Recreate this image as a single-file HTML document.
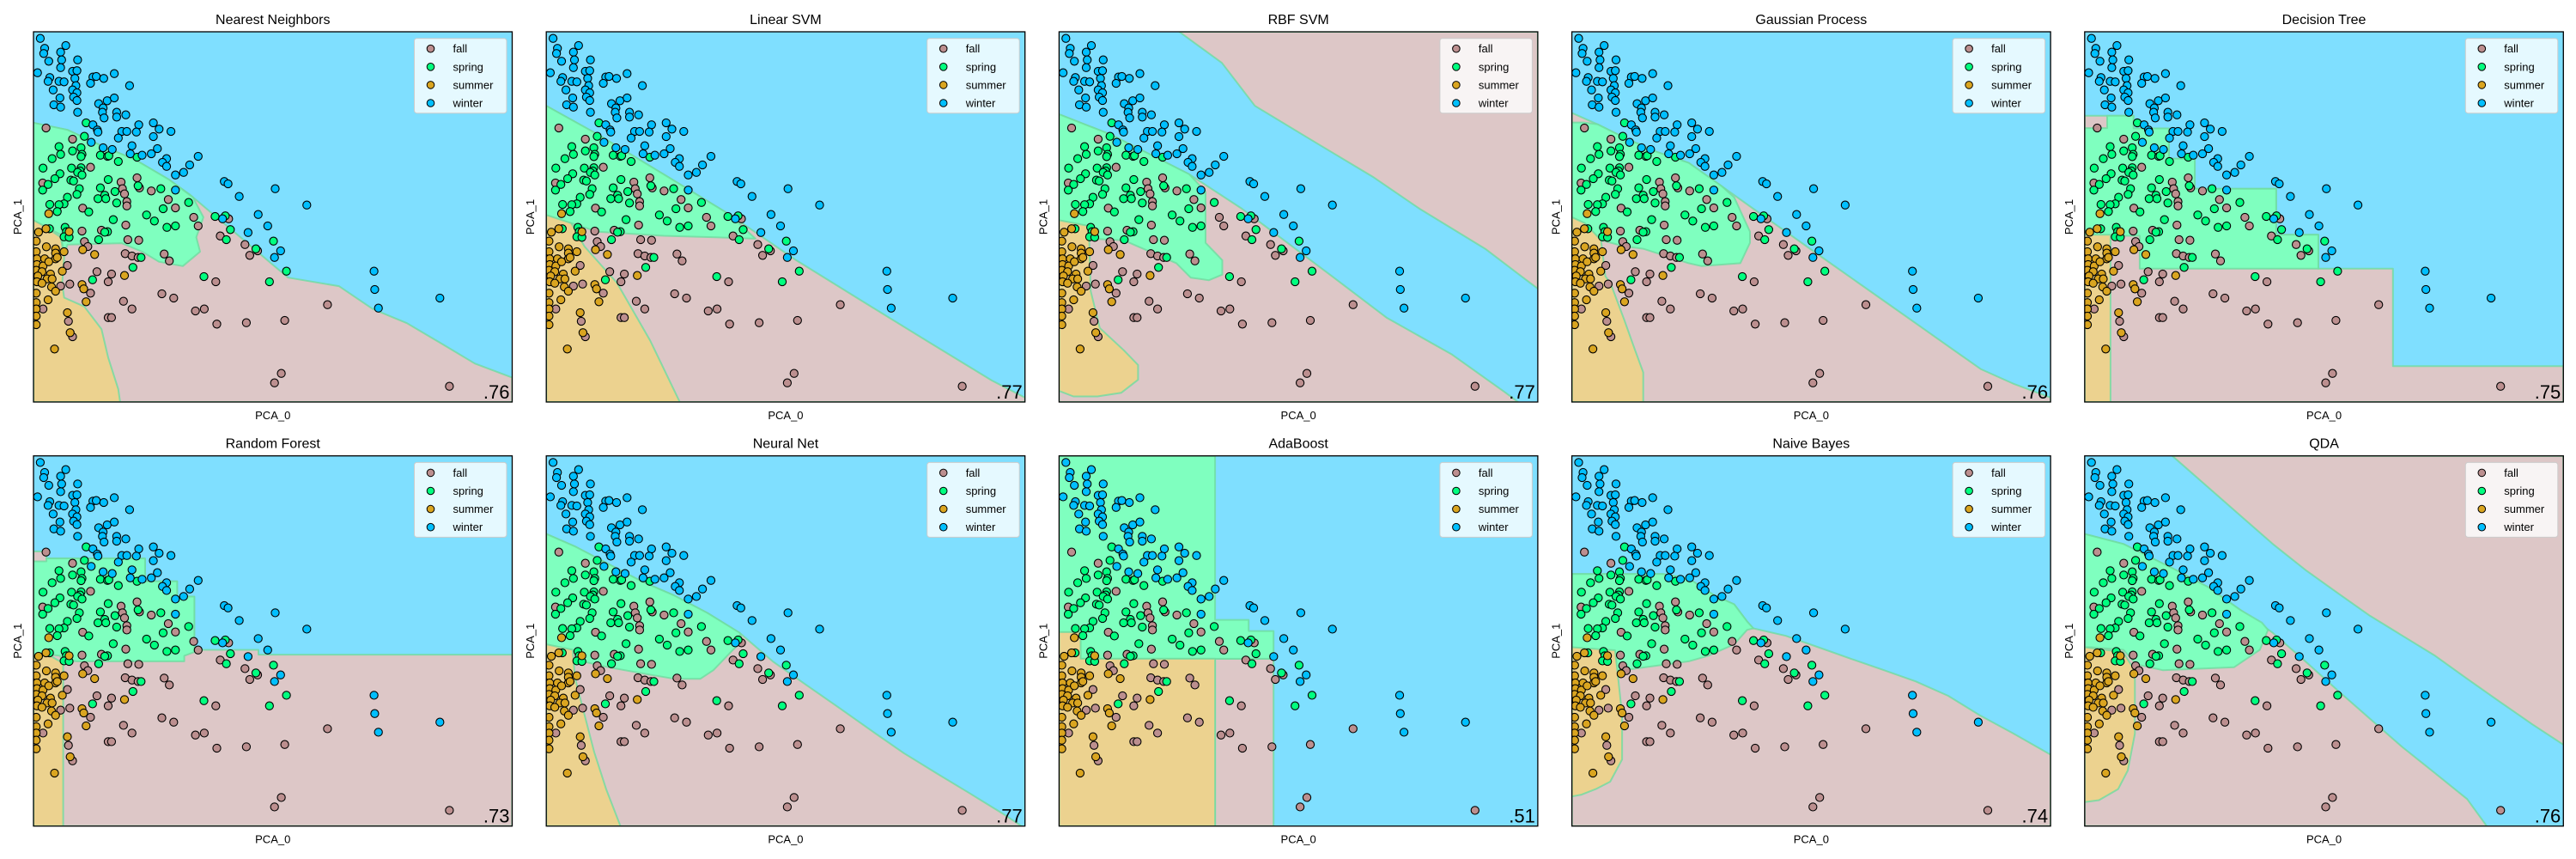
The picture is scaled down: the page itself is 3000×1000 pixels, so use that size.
<!DOCTYPE html>
<html><head><meta charset="utf-8">
<style>
html,body{margin:0;padding:0;background:#fff;}
svg{display:block;font-family:"Liberation Sans","DejaVu Sans",sans-serif;}
</style></head>
<body>
<svg id="chart" width="3000" height="1000" viewBox="0 0 3000 1000" xmlns="http://www.w3.org/2000/svg"></svg>
<script>
// ---- data (PCA_0, PCA_1) ----
const classNames = ["fall","spring","summer","winter"];
const classColors = ["#bc8f8f","#00ff7f","#daa520","#00bfff"];
const regionColors = ["#ddc7c7","#7fffbf","#ecd28f","#7fdfff"];
const winterPts = [[1.20,1.35],[1.95,1.60],[1.33,1.70],[1.80,1.83],[1.30,1.88],[1.45,2.15],[1.83,2.10],[2.30,2.10],[1.80,2.37],[2.15,2.50],[2.28,2.48],[1.12,2.55],[1.48,2.72],[2.22,2.75],[2.75,2.70],[2.85,2.68],[3.07,2.75],[3.38,2.58],[1.43,2.85],[1.75,2.85],[1.90,2.87],[2.25,3.00],[2.68,2.92],[3.83,3.00],[1.58,3.15],[2.15,3.15],[2.28,3.25],[1.78,3.43],[2.18,3.40],[2.28,3.52],[2.92,3.63],[3.17,3.53],[3.38,3.43],[1.60,3.67],[1.80,3.75],[3.05,3.78],[2.30,3.93],[3.03,3.93],[3.45,3.93],[3.72,4.02],[3.08,4.13],[3.45,4.10],[2.75,4.37],[4.10,4.37],[4.53,4.30],[2.88,4.55],[2.90,4.62],[3.60,4.60],[3.75,4.60],[4.03,4.62],[4.70,4.52],[5.05,4.60],[4.53,4.78],[3.50,4.83],[2.70,4.98],[3.90,5.10],[3.05,5.17],[3.32,5.23],[4.65,5.20],[3.85,5.38],[4.20,5.43],[4.47,5.38],[4.92,5.55],[4.80,5.68],[4.92,5.82],[5.85,5.47],[5.60,5.77],[5.42,6.03],[5.18,6.12],[5.18,6.65],[6.62,6.35],[6.73,6.43],[8.12,6.60],[7.06,6.87],[9.05,7.17],[7.62,7.50],[6.57,7.65],[7.90,7.90],[7.32,8.13],[8.28,8.77],[8.10,9.00],[11.03,9.48],[11.05,10.12],[11.16,10.77],[12.97,10.42]];
const springPts = [[2.55,4.30],[2.50,4.77],[1.75,5.13],[2.40,5.17],[1.80,5.40],[2.15,5.28],[2.43,5.40],[2.40,5.48],[2.97,5.43],[3.18,5.47],[3.22,5.45],[1.55,5.55],[3.50,5.65],[4.05,5.50],[1.28,5.88],[2.12,5.88],[2.40,5.87],[2.37,5.98],[2.30,6.03],[2.43,6.12],[1.78,6.08],[1.63,6.25],[2.10,6.30],[2.18,6.33],[3.20,6.28],[4.08,6.50],[1.43,6.45],[1.27,6.65],[2.35,6.60],[2.97,6.57],[3.40,6.70],[4.75,6.60],[2.28,6.80],[3.10,6.83],[2.90,6.95],[2.00,6.90],[1.48,7.15],[1.90,7.13],[1.75,7.16],[3.45,7.10],[3.13,6.95],[5.57,7.08],[1.70,7.40],[2.63,7.41],[4.82,7.30],[4.33,7.52],[4.56,7.73],[3.35,7.68],[6.35,7.57],[6.65,7.55],[1.93,7.95],[1.47,8.00],[1.97,8.10],[3.18,8.10],[3.10,8.12],[4.93,7.95],[5.18,7.90],[6.80,8.03],[1.90,8.28],[2.05,8.30],[2.92,8.38],[6.68,8.38],[8.07,8.43],[7.55,8.70],[4.17,9.00],[3.93,9.35],[8.45,9.48],[6.02,9.67],[2.74,9.78],[7.95,9.85]];
const fallPts = [[1.37,4.48],[2.15,4.87],[2.68,5.85],[1.27,6.40],[4.05,6.22],[3.58,6.37],[4.12,6.57],[3.62,6.60],[4.47,6.68],[3.68,6.78],[4.97,6.98],[3.75,7.05],[3.75,7.20],[5.18,7.27],[2.45,7.28],[5.72,7.60],[6.75,7.65],[3.72,7.87],[5.85,7.90],[2.43,8.08],[3.00,8.05],[6.50,8.25],[3.78,8.38],[4.10,8.40],[2.50,8.45],[2.60,8.62],[7.23,8.55],[7.60,8.77],[7.37,8.93],[3.70,8.87],[3.90,8.95],[4.08,9.00],[4.85,8.88],[5.00,9.12],[2.00,9.28],[2.87,9.50],[3.30,9.58],[3.20,9.85],[6.37,9.85],[2.07,9.93],[1.80,10.00],[2.68,10.25],[4.78,10.27],[5.13,10.42],[3.65,10.53],[3.90,10.80],[5.77,10.87],[6.03,10.80],[9.66,10.65],[3.20,11.10],[3.30,11.10],[6.40,11.33],[7.27,11.28],[8.40,11.20],[2.03,11.23],[2.15,11.77],[1.28,10.80],[8.30,13.05],[8.10,13.38],[13.25,13.50]];
const summerPts = [[1.45,7.47],[1.15,8.12],[1.37,8.00],[2.05,8.10],[1.08,8.43],[1.38,8.63],[1.65,8.70],[1.08,8.80],[1.65,8.85],[1.10,9.05],[1.33,9.05],[1.65,9.05],[1.10,9.25],[1.28,9.30],[1.45,9.15],[1.08,9.45],[1.25,9.50],[1.50,9.58],[1.85,9.48],[1.13,9.65],[1.40,9.75],[1.55,9.75],[1.10,9.85],[1.25,9.90],[1.53,10.03],[2.43,9.95],[2.48,10.10],[1.65,10.18],[1.08,10.25],[1.43,10.48],[1.08,10.58],[2.55,10.55],[1.08,10.80],[2.00,10.93],[1.08,11.05],[1.08,11.35],[2.08,11.63],[1.62,12.20],[2.45,8.73],[2.80,8.90],[3.68,9.63],[1.90,8.80],[1.70,9.00]];
const scores = [".76",".77",".77",".76",".75",".73",".77",".51",".74",".76"];
const titles = ["Nearest Neighbors","Linear SVM","RBF SVM","Gaussian Process","Decision Tree","Random Forest","Neural Net","AdaBoost","Naive Bayes","QDA"];
const xDomain = [1.00, 15.10];
const yDomain = [1.12, 14.05]; // PCA_1 axis runs downward in these units

// decision regions, percent of plot area [class index, polygon]
const regions = [
 [[0,[[0,24.6],[7.1,26.5],[14.2,30.8],[21.3,34.6],[28.4,40],[32.6,43.9],[36.9,48.6],[42.6,54.8],[49.6,62.5],[53.2,66.4],[63.8,68.7],[70.9,74.9],[78,78.7],[85.1,84.1],[92.2,89.6],[100,93.4],[100,100],[0,100]]],
  [1,[[0,24.6],[7.1,26.5],[14.2,30.8],[21.3,34.6],[28.4,40],[33.3,44.7],[35.5,50.1],[34,55.5],[34.8,59.4],[31.2,63.3],[26.2,62.1],[22.7,59.4],[18.4,57.1],[7.1,57.5],[6.4,60.2],[5.7,54.8],[2.1,52.4],[0,50.9]]],
  [2,[[0,50.9],[2.1,52.4],[5.7,55.5],[6.4,61],[6,68],[6.4,71.8],[10.6,74.2],[14.2,80.3],[15.6,88],[17.7,96.5],[18.1,100],[0,100]]]],
 [[0,[[0,20],[10.7,27.7],[24.5,38.5],[38.2,49.3],[52.2,61.7],[65.7,72.5],[79.4,83.4],[93.1,94.2],[100,98.8],[100,100],[0,100]]],
  [1,[[0,20],[10.7,27.7],[24.5,38.5],[38.2,49.3],[43.7,55.9],[35.4,55.5],[24.5,55.1],[10.7,54],[5.2,51.7],[0,49.5]]],
  [2,[[0,49.5],[5.2,51.7],[8,58],[14.8,67.9],[21.7,83.4],[27.9,100],[0,100]]]],
 [[0,[[0,22.3],[10.7,27.7],[27.2,38.5],[38.2,47.8],[47.8,57.1],[57.4,66.4],[68.4,77.2],[82.1,87.2],[93.1,97.3],[95.9,100],[0,100]]],
  [0,[[25.1,0],[34,8.4],[40.9,20],[54.7,30.8],[65.7,39.3],[75.3,47.8],[89,58.6],[100,69.4],[100,0]]],
  [1,[[0,22.3],[10.7,27.7],[27.2,38.5],[30.6,43.2],[30.6,57],[34.1,61.7],[34.1,65.6],[31.3,67.1],[27.5,66.4],[24.5,62.5],[13.5,56.3],[6.6,55.9],[5.9,52.4],[0,50.9]]],
  [2,[[0,50.9],[5.9,52.4],[6.3,56],[6.6,70],[8.5,80],[13.5,86],[16.5,90],[16.5,94],[13,97.5],[8,98.5],[3,98.5],[0,97]]]],
 [[0,[[0,21.9],[5.4,25],[10.8,28.5],[17.6,32.4],[24.4,35.4],[31.2,41.6],[37.9,47.8],[44.7,54],[51.5,60.2],[58.3,66.4],[65,72.5],[71.8,78.7],[78.6,84.9],[85.4,91.1],[92.1,95],[100,98.8],[100,100],[0,100]]],
  [1,[[0,24.5],[2.5,24.5],[5.4,25],[10.8,28.5],[17.6,32.4],[24.4,35.4],[31.2,41.6],[33.9,44.7],[37.2,54],[37.2,57],[35.2,62.5],[27.1,63.3],[24.4,62.5],[14.9,58.6],[10.8,57.9],[6.1,56.3],[2.7,51.7],[0,50.1]]],
  [2,[[0,50.1],[2.7,51.7],[6.1,56.3],[7,66],[8.1,68],[11,78],[13.2,86],[14.9,92],[14.9,100],[0,100]]]],
 [[0,[[0,22.7],[10.2,22.7],[10.2,26.1],[17.6,26.1],[17.6,34.3],[23,34.3],[23,42.4],[40,42.4],[40,54.8],[48.8,54.8],[48.8,64],[64.4,64],[64.4,90.3],[100,90.3],[100,100],[0,100]]],
  [1,[[4.7,22.7],[10.2,22.7],[10.2,26.1],[17.6,26.1],[17.6,34.3],[23,34.3],[23,42.4],[40,42.4],[40,54.8],[48.8,54.8],[48.8,64],[11.5,64],[11.5,55.1],[0,55.1],[0,26],[4.7,26]]],
  [2,[[0,54.8],[5.4,54.8],[5.4,100],[0,100]]]],
 [[0,[[0,25.8],[2.7,25.8],[2.7,27.7],[23.3,27.7],[23.3,33.9],[30,33.9],[30,38],[33.6,38],[33.6,52.4],[47,52.4],[47,53.7],[100,53.7],[100,100],[0,100]]],
  [1,[[2.7,27.7],[23.3,27.7],[23.3,33.9],[30,33.9],[30,38],[33.6,38],[33.6,53],[31.5,54],[31.5,55.5],[9,55.5],[6,55],[5.5,54],[3,53.6],[0,53.6],[0,28.5],[2.7,28.5]]],
  [2,[[0,53.6],[3,53.6],[6.2,56],[6.2,100],[0,100]]]],
 [[0,[[0,21.1],[6.2,24.6],[13,29.2],[19.9,33.9],[26.7,37.7],[33.6,42.4],[40.4,47.8],[47.3,55.5],[54.1,61.7],[61,67.9],[67.8,74.1],[74.7,80.3],[81.5,85.7],[88.4,91.1],[95.2,96.5],[99.3,100],[0,100]]],
  [1,[[0,21.1],[6.2,24.6],[13,29.2],[19.9,33.9],[26.7,37.7],[33.6,42.4],[40.4,47.8],[41,50],[39,52.4],[34.9,57.9],[32.2,60.2],[26.7,60.2],[21.2,59],[13,57.1],[7.5,55.5],[5.5,52.4],[0,50.9]]],
  [2,[[0,50.9],[5.5,52.4],[6,60],[8,70],[10,80],[12.5,90],[15.5,100],[0,100]]]],
 [[0,[[32.6,54.8],[44.8,54.8],[44.8,100],[32.6,100]]],
  [1,[[0,0],[32.6,0],[32.6,44.3],[39.6,44.3],[39.6,47.3],[44.8,47.3],[44.8,54.8],[4.5,54.8],[4.5,47.6],[0,47.6]]],
  [2,[[0,47.6],[4.5,47.6],[4.5,54.8],[32.6,54.8],[32.6,100],[0,100]]]],
 [[0,[[0,31.9],[19,31.9],[24.4,33.1],[29.8,37.7],[33.9,40.1],[36.6,44.7],[37.9,46.6],[44.7,48.6],[51.5,51.7],[58.3,54.8],[65,57.8],[71.8,60.9],[78.6,64.8],[85.4,70.2],[92.1,74.9],[100,80.7],[100,100],[0,100]]],
  [1,[[0,31.9],[19,31.9],[24.4,33.1],[29.8,37.7],[33.9,40.1],[36.6,44.7],[37.9,46.6],[36.6,47],[33.9,50.9],[28.5,54],[24.4,55.5],[10.8,57.9],[9.5,57.9],[9,53],[0,51.7]]],
  [2,[[0,51.7],[9,52.5],[9.5,58],[10.5,70],[10.5,82],[8,88],[5,90],[2,91.5],[0,92]]]],
 [[0,[[0,21.1],[8.1,23.8],[19,30.8],[25.7,35.4],[32.5,41.6],[39.3,47.8],[46.1,55.5],[52.8,63.3],[59.6,71],[66.4,78.7],[73.2,85.7],[79.9,92.7],[84,100],[0,100]]],
  [0,[[18.3,0],[25.7,8.4],[32.5,16.1],[39.3,23.8],[46.1,30.8],[52.8,37],[59.6,43.2],[66.4,48.6],[73.2,54],[79.9,60.2],[86.7,66.4],[93.5,72.5],[100,78],[100,0]]],
  [1,[[0,21.1],[8.1,23.8],[19,30.8],[25.7,35.4],[32.5,41.6],[37,45],[38.3,47],[36.6,52.4],[31.2,57.1],[16.3,57.9],[10.8,56.3],[8.1,52.4],[1.4,51.7],[0,51.7]]],
  [2,[[0,51.7],[8,53],[10.5,58],[10.5,75],[9,85],[7,90],[3,93],[0,93.5]]]]
];

const NS = "http://www.w3.org/2000/svg";
const svg = document.getElementById("chart");
function mk(tag, attrs, parent){ const e=document.createElementNS(NS,tag); for(const k in attrs) e.setAttribute(k,attrs[k]); (parent||svg).appendChild(e); return e; }

const PW = 557.5, PH = 431;
const rowTops = [37, 530.7];
function panelLeft(c){ return 39 + 597.2*c; }

const pts = [fallPts, springPts, summerPts, winterPts];

for(let i=0;i<10;i++){
  const c=i%5, r=Math.floor(i/5);
  const L=panelLeft(c), T=rowTops[r];
  const xs = v => L + (v - xDomain[0])/(xDomain[1]-xDomain[0])*PW;
  const ys = v => T + (v - yDomain[0])/(yDomain[1]-yDomain[0])*PH;
  const px = p => L + p/100*PW, py = p => T + p/100*PH;

  const g = mk("g",{});
  
  
  const clipId='clip'+i;
  const cp=mk("clipPath",{id:clipId},g); mk("rect",{x:L,y:T,width:PW,height:PH},cp);

  const bg=mk("rect",{x:L,y:T,width:PW,height:PH,fill:regionColors[3]},g);
  
  
  const rg=mk("g",{"clip-path":"url(#"+clipId+")"},g);
  regions[i].forEach(([k,poly])=>{
    const p=mk("polygon",{points:poly.map(q=>px(q[0]).toFixed(1)+","+py(q[1]).toFixed(1)).join(" "),fill:regionColors[k],stroke:"#6fdca0","stroke-width":2,"stroke-opacity":0.8,"stroke-linejoin":"round"},rg);
    
    
  });
  // points
  const pg=mk("g",{"clip-path":"url(#"+clipId+")"},g);
  pts.forEach((arr,k)=>{
    arr.forEach(d=>{
      const ci=mk("circle",{cx:xs(d[0]).toFixed(1),cy:ys(d[1]).toFixed(1),r:4.6,fill:classColors[k],stroke:"#000","stroke-width":1.1},pg);
      
      
    });
  });
  const fr=mk("rect",{x:L,y:T,width:PW,height:PH,fill:"none",stroke:"#000","stroke-width":1.3},g);
  
  
  // title
  const t=mk("text",{x:L+PW/2,y:T-9,"text-anchor":"middle","font-size":16,fill:"#000"},g); t.textContent=titles[i];
  
  
  const xl=mk("text",{x:L+PW/2,y:T+PH+20,"text-anchor":"middle","font-size":13,fill:"#000"},g); xl.textContent="PCA_0";
  
  
  const yl=mk("text",{x:0,y:0,"text-anchor":"middle","font-size":13,fill:"#000",transform:"translate("+(L-14)+","+(T+PH/2)+") rotate(-90)"},g); yl.textContent="PCA_1";
  
  
  const sc=mk("text",{x:L+PW-3,y:T+PH-4,"text-anchor":"end","font-size":22,fill:"#000"},g); sc.textContent=scores[i];
  
  
  // legend
  const lg=mk("g",{},g);
  
  
  const lx=L+PW-114, ly=T+7.7;
  mk("rect",{x:lx,y:ly,width:107.5,height:87,rx:3,fill:"#fff","fill-opacity":0.8,stroke:"#ccc","stroke-width":1},lg);
  classNames.forEach((nm,k)=>{
    const e=mk("g",{},lg);
    
    
    const yy=ly+12+k*21.1;
    mk("circle",{cx:lx+19,cy:yy,r:4.3,fill:classColors[k],stroke:"#000","stroke-width":1},e);
    const tx=mk("text",{x:lx+45,y:yy+4.5,"font-size":13,fill:"#000"},e); tx.textContent=nm;
  });
}
</script>
</body></html>
